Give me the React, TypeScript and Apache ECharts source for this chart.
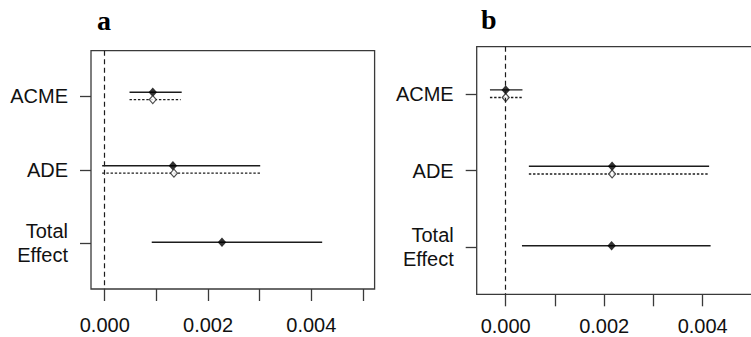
import React, { useEffect, useRef } from "react";
import * as echarts from "echarts";

// ---- data ----
const effects = ["ACME", "ADE", "Total Effect"];
const xTickValues = [0, 0.001, 0.002, 0.003, 0.004, 0.005];
const xLabelValues = [0, 0.002, 0.004];

// Panel a — solid line / filled diamond
const aEstSolid = [0.00093, 0.00132, 0.00227];
const aLowSolid = [0.00048, -0.00005, 0.00091];
const aHighSolid = [0.00149, 0.00301, 0.00421];
// Panel a — dotted line / open diamond (ACME, ADE)
const aEstDotted = [0.00093, 0.00134];
const aLowDotted = [0.00048, -0.00005];
const aHighDotted = [0.00147, 0.00301];

// Panel b — solid line / filled diamond
const bEstSolid = [0.0, 0.00216, 0.00215];
const bLowSolid = [-0.00032, 0.00047, 0.00033];
const bHighSolid = [0.00034, 0.00413, 0.00416];
// Panel b — dotted line / open diamond (ACME, ADE)
const bEstDotted = [0.0, 0.00216];
const bLowDotted = [-0.00032, 0.00047];
const bHighDotted = [0.00033, 0.00413];

// ---- layout constants ----
const OFF_SOLID = -0.055;
const OFF_DOTTED = 0.045;
const OFF_TOTAL = -0.015;
const INK = "#1c1c1c";
const BOX = "#3a3a3a";
const SANS = "'Liberation Sans', Arial, sans-serif";

function rowPos(i: number, off: number) {
  return i + 1 + off;
}

function panelSeries(
  gi: number,
  estS: number[],
  lowS: number[],
  highS: number[],
  estD: number[],
  lowD: number[],
  highD: number[]
): any[] {
  const solidSeg = estS.map((_, i) => [
    lowS[i],
    highS[i],
    rowPos(i, i === 2 ? OFF_TOTAL : OFF_SOLID),
  ]);
  const dottedSeg = estD.map((_, i) => [lowD[i], highD[i], rowPos(i, OFF_DOTTED)]);
  const solidPts = estS.map((v, i) => [v, rowPos(i, i === 2 ? OFF_TOTAL : OFF_SOLID)]);
  const dottedPts = estD.map((v, i) => [v, rowPos(i, OFF_DOTTED)]);

  const seg = (dash: number[] | null) => (params: any, api: any) => {
    const p1 = api.coord([api.value(0), api.value(2)]);
    const p2 = api.coord([api.value(1), api.value(2)]);
    return {
      type: "line",
      shape: { x1: p1[0], y1: p1[1], x2: p2[0], y2: p2[1] },
      style: { stroke: INK, lineWidth: 1.4, lineDash: dash, fill: null },
    };
  };

  return [
    {
      type: "custom",
      xAxisIndex: gi,
      yAxisIndex: gi,
      data: solidSeg,
      encode: { x: [0, 1], y: 2 },
      renderItem: seg(null),
      silent: true,
      z: 2,
      markLine: {
        silent: true,
        symbol: ["none", "none"],
        label: { show: false },
        lineStyle: { color: INK, width: 1.2, type: [5, 3.5] },
        data: [{ xAxis: 0 }],
      },
    },
    {
      type: "custom",
      xAxisIndex: gi,
      yAxisIndex: gi,
      data: dottedSeg,
      encode: { x: [0, 1], y: 2 },
      renderItem: seg([2.4, 1.8]),
      silent: true,
      z: 2,
    },
    {
      type: "scatter",
      xAxisIndex: gi,
      yAxisIndex: gi,
      data: solidPts,
      symbol: "diamond",
      symbolSize: [8.5, 9.5],
      itemStyle: { color: "#000" },
      silent: true,
      z: 4,
    },
    {
      type: "scatter",
      xAxisIndex: gi,
      yAxisIndex: gi,
      data: dottedPts,
      symbol: "diamond",
      symbolSize: [7, 8],
      itemStyle: { color: "#fff", borderColor: "#222", borderWidth: 1.2 },
      silent: true,
      z: 4,
    },
  ];
}

function xAxisFor(gi: number, min: number, max: number, labelMargin: number): any {
  return {
    type: "value",
    gridIndex: gi,
    min,
    max,
    position: "bottom",
    axisLine: { show: false, onZero: false },
    splitLine: { show: false },
    axisTick: {
      show: true,
      length: 12,
      inside: false,
      customValues: xTickValues,
      lineStyle: { color: BOX, width: 1.3 },
    },
    axisLabel: {
      show: true,
      customValues: xLabelValues,
      margin: labelMargin,
      fontSize: 20,
      lineHeight: 20,
      fontFamily: SANS,
      color: "#111",
      formatter: (v: number) => v.toFixed(3),
    },
  };
}

function yAxisFor(gi: number): any {
  return {
    type: "value",
    gridIndex: gi,
    min: 0.38,
    max: 3.62,
    inverse: true,
    position: "left",
    axisLine: { show: false, onZero: false },
    splitLine: { show: false },
    axisTick: {
      show: true,
      length: 11,
      inside: false,
      customValues: [1, 2, 3],
      lineStyle: { color: BOX, width: 1.3 },
    },
    axisLabel: {
      show: true,
      customValues: [1, 2, 3],
      margin: 23,
      fontSize: 20,
      lineHeight: 24,
      fontFamily: SANS,
      color: "#111",
      align: "right",
      formatter: (v: number) => {
        const name = effects[Math.round(v) - 1] || "";
        return name.replace(" ", "\n");
      },
    },
  };
}

export default function App() {
  const ref = useRef<HTMLDivElement>(null);

  useEffect(() => {
    document.body.style.margin = "0";
    if (!ref.current) return;
    const chart = echarts.init(ref.current, null, { renderer: "svg" });

    const option: any = {
      animation: false,
      backgroundColor: "#ffffff",
      grid: [
        {
          left: 91,
          top: 50.7,
          width: 283.6,
          height: 238.3,
          show: true,
          borderColor: BOX,
          borderWidth: 1.3,
          backgroundColor: "transparent",
          containLabel: false,
          outerBoundsMode: "none",
        },
        {
          left: 476.7,
          top: 46.7,
          width: 290,
          height: 247.6,
          show: true,
          borderColor: BOX,
          borderWidth: 1.3,
          backgroundColor: "transparent",
          containLabel: false,
          outerBoundsMode: "none",
        },
      ],
      xAxis: [
        xAxisFor(0, -0.000266, 0.005225, 26),
        xAxisFor(1, -0.000589, 0.005299, 22),
      ],
      yAxis: [yAxisFor(0), yAxisFor(1)],
      graphic: [
        {
          type: "text",
          x: 97,
          y: 6,
          style: {
            text: "a",
            fontFamily: "'Liberation Serif', 'Times New Roman', serif",
            fontWeight: "bold",
            fontSize: 28,
            fill: "#000",
            verticalAlign: "top",
          },
        },
        {
          type: "text",
          x: 481,
          y: 5,
          style: {
            text: "b",
            fontFamily: "'Liberation Serif', 'Times New Roman', serif",
            fontWeight: "bold",
            fontSize: 28,
            fill: "#000",
            verticalAlign: "top",
          },
        },
      ],
      series: [
        ...panelSeries(0, aEstSolid, aLowSolid, aHighSolid, aEstDotted, aLowDotted, aHighDotted),
        ...panelSeries(1, bEstSolid, bLowSolid, bHighSolid, bEstDotted, bLowDotted, bHighDotted),
      ],
    };

    chart.setOption(option);
    return () => {
      chart.dispose();
    };
  }, []);

  return <div ref={ref} style={{ width: 751, height: 337 }} />;
}
